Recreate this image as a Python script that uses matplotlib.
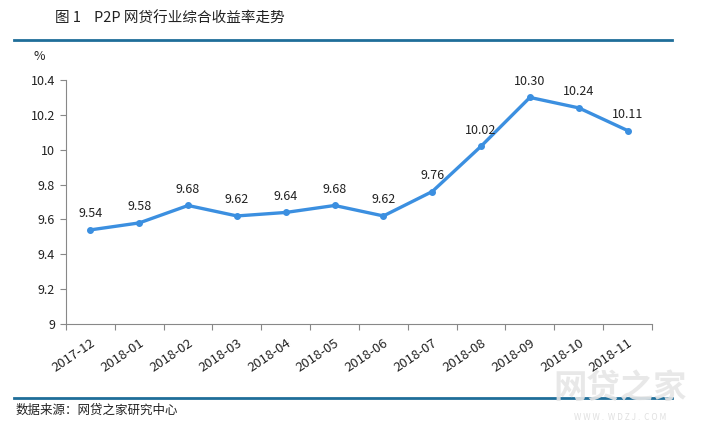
import matplotlib.pyplot as plt
from matplotlib.lines import Line2D

plt.rcParams['font.family'] = ['Noto Sans CJK SC', 'DejaVu Sans']

months = ['2017-12', '2018-01', '2018-02', '2018-03', '2018-04', '2018-05',
          '2018-06', '2018-07', '2018-08', '2018-09', '2018-10', '2018-11']
rate = [9.54, 9.58, 9.68, 9.62, 9.64, 9.68, 9.62, 9.76, 10.02, 10.30, 10.24, 10.11]
rate_labels = ['9.54', '9.58', '9.68', '9.62', '9.64', '9.68',
               '9.62', '9.76', '10.02', '10.30', '10.24', '10.11']
y_ticks = [9, 9.2, 9.4, 9.6, 9.8, 10, 10.2, 10.4]
y_tick_labels = ['9', '9.2', '9.4', '9.6', '9.8', '10', '10.2', '10.4']

W, H = 712, 433
fig = plt.figure(figsize=(W / 100, H / 100), dpi=100)
ax = fig.add_axes([66 / W, 1 - 324 / H, (652 - 66) / W, (324 - 80) / H])

x = list(range(len(months)))
line_color = '#3b8fe0'
ax.plot(x, rate, color=line_color, lw=2.4, marker='o', ms=4, solid_capstyle='round')
for xi, yi, lab in zip(x, rate, rate_labels):
    ax.annotate(lab, (xi, yi), xytext=(0, 7), textcoords='offset points',
                ha='center', va='bottom', fontsize=9, color='#222222')

ax.set_xlim(-0.5, len(months) - 0.5)
ax.set_ylim(9, 10.4)
ax.set_yticks(y_ticks)
ax.set_yticklabels(y_tick_labels, fontsize=9, color='#222222')
ax.set_xticks([i - 0.5 for i in range(len(months) + 1)])
ax.set_xticklabels([])
ax.set_xticks(x, minor=True)
ax.set_xticklabels(months, minor=True, rotation=34, ha='right', rotation_mode='anchor',
                   fontsize=9.5, color='#222222')
ax.tick_params(axis='x', which='minor', length=0, pad=9)
ax.tick_params(axis='x', which='major', length=4, color='#888888')
ax.tick_params(axis='y', length=4, color='#888888', pad=4)

for s in ['top', 'right']:
    ax.spines[s].set_visible(False)
for s in ['left', 'bottom']:
    ax.spines[s].set_color('#888888')
    ax.spines[s].set_linewidth(0.8)

# header, rules and source
rule_color = '#1f6e99'
fig.add_artist(Line2D([14 / W, 672 / W], [1 - 40 / H, 1 - 40 / H], color=rule_color, lw=2))
fig.add_artist(Line2D([14 / W, 672 / W], [1 - 398 / H, 1 - 398 / H], color=rule_color, lw=2))
fig.text(55 / W, 1 - 19 / H, '图 1    P2P 网贷行业综合收益率走势', fontsize=10.5,
         va='center', ha='left', color='#222222')
fig.text(34 / W, 1 - 57 / H, '%', fontsize=9, va='center', ha='left', color='#222222')
fig.text(16 / W, 1 - 410 / H, '数据来源：网贷之家研究中心', fontsize=9,
         va='center', ha='left', color='#222222')

# watermark
fig.text(620 / W, 1 - 388 / H, '网贷之家', fontsize=24, ha='center', va='center',
         color='#e6e6e6', fontweight='bold', alpha=0.9)
fig.text(620 / W, 1 - 418 / H, 'W W W .  W D Z J .  C O M', fontsize=6, ha='center',
         va='center', color='#e0e0e0')

fig.savefig('out.png', dpi=100)
